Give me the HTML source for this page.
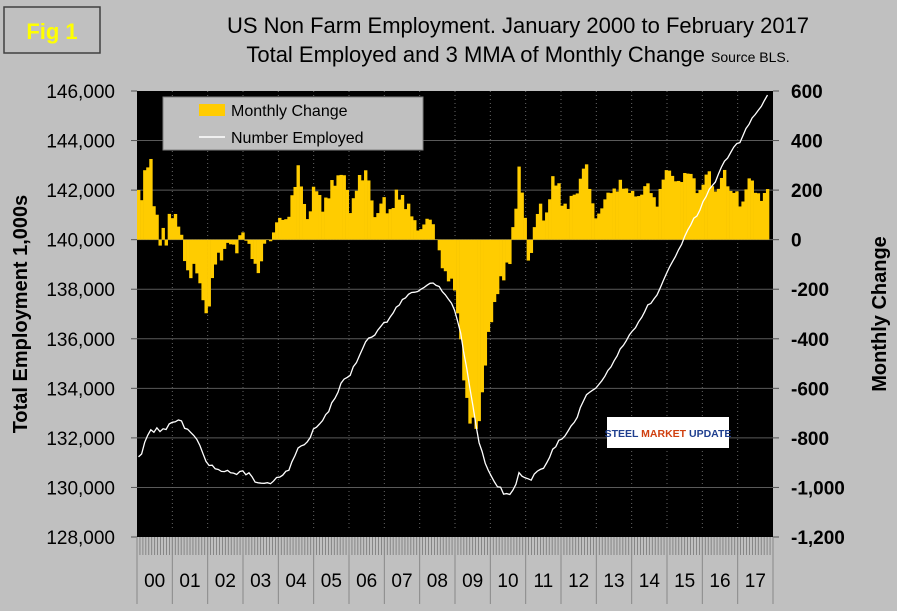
<!DOCTYPE html>
<html><head><meta charset="utf-8"><style>
body{margin:0;background:#c0c0c0;}
svg{display:block;font-family:"Liberation Sans",Arial,sans-serif;}
</style></head><body>
<svg id="c" width="897" height="611" viewBox="0 0 897 611" xmlns="http://www.w3.org/2000/svg">
<rect x="0" y="0" width="897" height="611" fill="#c0c0c0"/>
<rect x="4" y="7" width="96" height="46" fill="none" stroke="#404040" stroke-width="1.5"/>
<text x="52" y="39" text-anchor="middle" font-size="22" font-weight="bold" fill="#ffff00">Fig 1</text>
<text x="518" y="33" text-anchor="middle" font-size="22" fill="#000">US Non Farm Employment. January 2000 to February 2017</text>
<text x="518" y="62" text-anchor="middle" font-size="22" fill="#000">Total Employed and 3 MMA of Monthly Change <tspan font-size="14">Source BLS.</tspan></text>
<rect x="137" y="91" width="636" height="446" fill="#000"/>
<g id="grid"></g><g id="bars"></g><g id="line"></g><g id="axes"></g>
<g>
<rect x="163" y="97" width="260" height="53" fill="#c0c0c0" stroke="#808080"/>
<rect x="199" y="104" width="26" height="12" fill="#ffcc00"/>
<text x="231" y="116" font-size="16">Monthly Change</text>
<line x1="199" y1="137" x2="225" y2="137" stroke="#fff" stroke-width="1.5"/>
<text x="231" y="143" font-size="16">Number Employed</text>
</g>
<g>
<rect x="607" y="417" width="122" height="31" fill="#fff"/>
<text x="668" y="437" text-anchor="middle" font-size="10.5" font-weight="bold" fill="#1f3f8f">STEEL <tspan fill="#d04010">MARKET</tspan> UPDATE</text>
</g>
<text transform="translate(27,314) rotate(-90)" text-anchor="middle" font-size="20" font-weight="bold">Total Employment 1,000s</text>
<text transform="translate(886,314) rotate(-90)" text-anchor="middle" font-size="20" font-weight="bold">Monthly Change</text>
</svg>
<script>
const years = ["00","01","02","03","04","05","06","07","08","09","10","11","12","13","14","15","16","17"];
const leftTicks = [128000,130000,132000,134000,136000,138000,140000,142000,144000,146000];
const rightTicks = [-1200,-1000,-800,-600,-400,-200,0,200,400,600];
const prior = [130630,130870,130980];
const employed = [
131231,131348,131821,132106,132325,132226,132408,132253,132368,132337,132565,132628,
132648,132723,132687,132389,132352,132221,132096,131944,131693,131363,131053,130884,
130898,130752,130726,130646,130640,130687,130590,130580,130522,130644,130668,130509,
130593,130434,130217,130188,130172,130168,130192,130153,130256,130402,130417,130495,
130650,130694,131033,131288,131595,131677,131720,131844,132020,132361,132430,132561,
132700,132940,133061,133422,133593,133840,134206,134373,134442,134528,134875,135034,
135311,135593,135874,136028,136068,136147,136350,136505,136662,136669,136875,137045,
137275,137360,137586,137645,137796,137868,137881,137907,137995,138065,138160,138237,
138252,138156,138108,137906,137774,137603,137434,137159,136711,136227,135455,134795,
134000,133300,132504,131803,131452,130980,130686,130453,130225,130027,130010,129732,
129750,129715,129884,130125,130600,130454,130389,130347,130293,130541,130658,130729,
130773,130988,131218,131542,131643,131901,131953,132079,132273,132483,132624,132833,
133221,133484,133745,133835,133924,134003,134151,134303,134491,134720,134867,135110,
135303,135592,135727,135923,136158,136317,136446,136686,136862,137094,137368,137426,
137608,137768,138040,138335,138610,138876,139107,139317,139587,139805,140124,140387,
140601,140867,140951,141202,141533,141739,142030,142180,142322,142645,142927,143166,
143291,143517,143732,143876,143919,144194,144485,144661,144910,145052,145223,145379,
145617,145836];
// 3-month moving average of monthly change
const all = prior.concat(employed);
const change3mma = employed.map((v,i)=>{const k=i+3;return ((all[k]-all[k-1])+(all[k-1]-all[k-2])+(all[k-2]-all[k-3]))/3;});

const NS="http://www.w3.org/2000/svg";
const X0=137,X1=773,Y0=91,Y1=537;
const n=employed.length;
const bw=(X1-X0-4)/n;
const xm=i=>X0+bw*(i+0.5);
const yL=v=>Y1-(v-128000)/18000*(Y1-Y0);
const yR=v=>Y1-(v+1200)/1800*(Y1-Y0);
function mk(tag,attrs,parent){const e=document.createElementNS(NS,tag);for(const k in attrs)e.setAttribute(k,attrs[k]);document.getElementById(parent).appendChild(e);return e;}
const yw=(X1-X0)/years.length;
leftTicks.forEach(t=>{if(t>128000&&t<146000){const g=mk('line',{x1:X0,x2:X1,y1:yL(t),y2:yL(t),stroke:'#5a5a5a','stroke-width':1},'grid');

}});
years.forEach((y,i)=>{if(i>0){const g=mk('line',{x1:X0+i*yw,x2:X0+i*yw,y1:Y0,y2:Y1-8,stroke:'#666','stroke-dasharray':'1,3'},'grid');

}});
change3mma.forEach((v,i)=>{const y=yR(v),z=yR(0);const b=mk('rect',{x:X0+bw*i,y:Math.min(y,z),width:bw+0.3,height:Math.abs(y-z),fill:'#ffcc00'},'bars');

});
const p=mk('polyline',{points:employed.map((v,i)=>xm(i).toFixed(1)+','+yL(v).toFixed(1)).join(' '),fill:'none',stroke:'#fff','stroke-width':1.3},'line');


leftTicks.forEach(t=>{const l=mk('line',{x1:X0-6,x2:X0,y1:yL(t),y2:yL(t),stroke:'#555'},'axes');


const tx=mk('text',{x:X0-22,y:yL(t)+7,'text-anchor':'end','font-size':19},'axes');tx.textContent=t.toLocaleString('en-US');

});
rightTicks.forEach(t=>{const l=mk('line',{x1:X1,x2:X1+6,y1:yR(t),y2:yR(t),stroke:'#555'},'axes');


const tx=mk('text',{x:X1+18,y:yR(t)+7,'text-anchor':'start','font-size':19,'font-weight':'bold'},'axes');tx.textContent=t.toLocaleString('en-US');

});
for(let i=0;i<=years.length*12;i++){const x=X0+i*yw/12;const l=mk('line',{x1:x,x2:x,y1:Y1,y2:Y1+18,stroke:'#777','stroke-width':0.8},'axes');

}
years.forEach((y,i)=>{const l=mk('line',{x1:X0+i*yw,x2:X0+i*yw,y1:Y1,y2:Y1+67,stroke:'#888'},'axes');


const tx=mk('text',{x:X0+(i+0.5)*yw,y:Y1+50,'text-anchor':'middle','font-size':19},'axes');tx.textContent=y;

});
const le=mk('line',{x1:X1,x2:X1,y1:Y1,y2:Y1+67,stroke:'#888'},'axes');


</script>
</body></html>
